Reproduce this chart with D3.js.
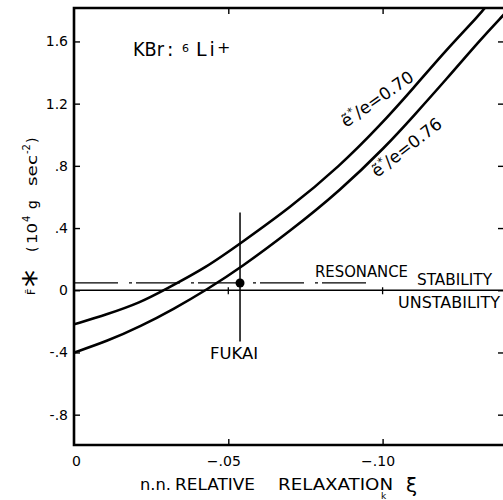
<!DOCTYPE html>
<html>
<head>
<meta charset="utf-8">
<script src="https://cdn.jsdelivr.net/npm/d3@7"></script>
<style>
body { margin: 0; background: #fff; }
svg { font-family: "DejaVu Sans", sans-serif; }
</style>
</head>
<body>
<script>
// values (xi is plotted negative, to the right)
var xiUpper = [0, -0.0108, -0.0216, -0.0291, -0.0432, -0.0538, -0.070, -0.0862, -0.0992, -0.110, -0.1208, -0.1316, -0.1345];
var fUpper  = [-0.219, -0.155, -0.078, 0.0, 0.15, 0.30, 0.53, 0.80, 1.06, 1.30, 1.55, 1.775, 1.85];

var xiLower = [0, -0.0108, -0.0216, -0.0324, -0.0432, -0.054, -0.070, -0.0862, -0.1013, -0.110, -0.1208, -0.1316, -0.1394];
var fLower  = [-0.401, -0.327, -0.232, -0.12, 0.006, 0.145, 0.38, 0.64, 0.93, 1.12, 1.36, 1.61, 1.775];

var resonance = 0.047;
var resonanceEnd = -0.095;

var fukaiXi = -0.0538;
var fukaiF = 0.047;
var fukaiLo = -0.33;
var fukaiHi = 0.50;

var yTicks = [-0.8, -0.4, 0, 0.4, 0.8, 1.2, 1.6];
var yTickLabels = ["-.8", "-.4", "0", ".4", ".8", "1.2", "1.6"];
var xTicks = [0, -0.05, -0.10];
var xTickLabels = ["0", "\u2212.05", "\u2212.10"];

// dimensions
var width = 503;
var height = 500;

var margin = {
    top: 8,
    bottom: 55,
    left: 74,
    right: -1,
}

var svg = d3.select("body")
    .append("svg")
    .attr("width", width)
    .attr("height", height)
    .append('g')
    .attr('transform', 'translate(' + margin.left + ',' + margin.top + ')');

width = width - margin.left - margin.right;
height = height - margin.top - margin.bottom;

var x = d3.scaleLinear().domain([0, -0.13934]).range([0, width]);
var y = d3.scaleLinear().domain([-0.995, 1.815]).range([height, 0]);

svg.append("clipPath").attr("id", "plotclip")
    .append("rect")
    .attr("x", 0).attr("y", 0)
    .attr("width", width).attr("height", height);

// axes with inward ticks
var yAxis = svg.append("g")
    .call(d3.axisLeft(y).tickValues(yTicks).tickSize(-6).tickSizeOuter(0).tickPadding(6)
        .tickFormat(function(d, i) { return yTickLabels[i]; }));

var xAxis = svg.append("g")
    .attr("transform", "translate(0," + height + ")")
    .call(d3.axisBottom(x).tickValues(xTicks).tickSize(-6).tickSizeOuter(0).tickPadding(11)
        .tickFormat(function(d, i) { return xTickLabels[i]; }));

svg.append("g")
    .call(d3.axisTop(x).tickValues([-0.05, -0.10]).tickSize(-6).tickSizeOuter(0).tickFormat(""));

svg.append("g")
    .attr("transform", "translate(" + width + ",0)")
    .call(d3.axisRight(y).tickValues(yTicks).tickSize(-6).tickSizeOuter(0).tickFormat(""));

svg.selectAll(".domain").remove();
svg.selectAll(".tick line").attr("stroke", "#000").attr("stroke-width", 1.4);
svg.selectAll(".tick text").attr("fill", "#000").style("font-size", "14px")
    .style("font-family", "DejaVu Sans, sans-serif");
xAxis.selectAll(".tick text").attr("dx", function(d) { return d == 0 ? 2 : -5; });
xAxis.selectAll(".tick").filter(function(d) { return d == 0; }).select("line").remove();

// frame
svg.append("path")
    .attr("d", "M" + (width + 2) + ",0H0V" + height + "H" + (width + 2))
    .attr("fill", "none")
    .attr("stroke", "#000")
    .attr("stroke-width", 2.6);

// zero line with its small ticks
svg.append("line")
    .attr("x1", 0).attr("x2", width)
    .attr("y1", y(0)).attr("y2", y(0))
    .attr("stroke", "#000").attr("stroke-width", 1.3);

svg.selectAll(".zt")
    .data([-0.05, -0.10])
    .enter().append("line")
    .attr("class", "zt")
    .attr("x1", function(d) { return x(d); }).attr("x2", function(d) { return x(d); })
    .attr("y1", y(0) - 3).attr("y2", y(0) + 4)
    .attr("stroke", "#000").attr("stroke-width", 1.3);

// resonance line (dash-dot)
svg.append("line")
    .attr("x1", x(0)).attr("x2", x(resonanceEnd))
    .attr("y1", y(resonance)).attr("y2", y(resonance))
    .attr("stroke", "#000").attr("stroke-width", 1.2)
    .attr("stroke-dasharray", "44,11,3,4");

// curves
var line = d3.line()
    .x(function(d) { return x(d[0]); })
    .y(function(d) { return y(d[1]); })
    .curve(d3.curveBasis);

var curves = [
    xiUpper.map(function(v, i) { return [v, fUpper[i]]; }),
    xiLower.map(function(v, i) { return [v, fLower[i]]; })
];

svg.append("g").attr("clip-path", "url(#plotclip)")
    .selectAll(".curve")
    .data(curves)
    .enter().append("path")
    .attr("class", "curve")
    .attr("d", line)
    .attr("fill", "none")
    .attr("stroke", "#000")
    .attr("stroke-width", 2.6);

// Fukai point
svg.append("line")
    .attr("x1", x(fukaiXi)).attr("x2", x(fukaiXi))
    .attr("y1", y(fukaiHi)).attr("y2", y(fukaiLo))
    .attr("stroke", "#000").attr("stroke-width", 1.5);

svg.append("circle")
    .attr("cx", x(fukaiXi)).attr("cy", y(fukaiF))
    .attr("r", 4.5).attr("fill", "#000");

// texts (page coordinates)
var page = d3.select("svg").append("g");

function label(txt, px, py, size, len) {
    var t = page.append("text")
        .attr("x", px).attr("y", py)
        .style("font-size", size + "px")
        .text(txt);
    if (len) t.attr("textLength", len).attr("lengthAdjust", "spacingAndGlyphs");
    return t;
}

label("FUKAI", 210, 359, 16, 48);
label("RESONANCE", 315, 277, 16, 93);
label("STABILITY", 417, 285, 16, 75);
label("UNSTABILITY", 398, 308, 16, 102);

// KBr:6Li+
label("KBr", 133, 56, 19, 31);
label(":", 167, 56, 19);
label("6", 182, 52, 11);
label("Li", 196, 56, 19).style("letter-spacing", "3px");
label("+", 217, 53, 16);

// x title
label("n.n.", 140, 490, 16, 31);
label("RELATIVE", 175, 490, 16, 80);
label("RELAXATION", 278, 490, 16, 115);
label("k", 381, 499, 9);
label("\u03be", 406, 492, 20);

// y title
var yt = page.append("g").attr("transform", "translate(37,0) rotate(-90)");
function ylab(txt, lx, ly, size, len) {
    var t = yt.append("text").attr("x", lx).attr("y", ly)
        .style("font-size", size + "px").text(txt);
    if (len) t.attr("textLength", len).attr("lengthAdjust", "spacingAndGlyphs");
    return t;
}
ylab("F\u0303", -295, -2, 11);
ylab("*", -287, 10, 34);
ylab("(", -252, 0, 14);
ylab("10", -244, 0, 14, 21);
ylab("4", -222, -7, 10);
ylab("g", -209, 0, 14);
ylab("sec", -186, 0, 14, 31);
ylab("-2", -154, -7, 10, 10);
ylab(")", -143, 0, 14);

// curve labels along the lines
function curveLabel(val, px, py, angle) {
    var t = page.append("text")
        .attr("transform", "translate(" + px + "," + py + ") rotate(" + (-angle) + ")")
        .style("font-size", "17px");
    t.append("tspan").text("\u1ebd");
    t.append("tspan").attr("dy", -7).style("font-size", "11px").text("*");
    t.append("tspan").attr("dy", 7).text("/e=" + val);
    return t;
}
curveLabel("0.70", 346, 128, 35);
curveLabel("0.76", 377, 178, 38);
</script>
</body>
</html>
